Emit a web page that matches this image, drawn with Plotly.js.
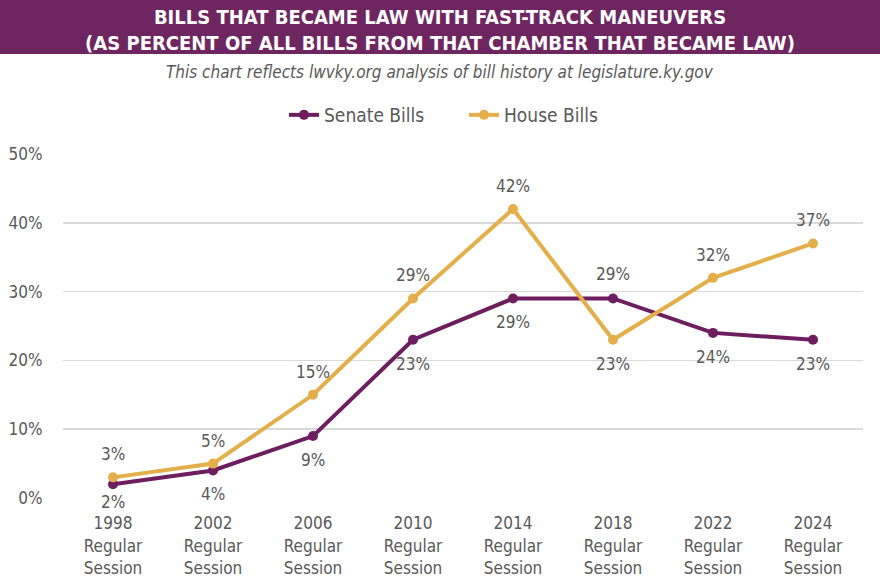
<!DOCTYPE html>
<html>
<head>
<meta charset="utf-8">
<script src="https://cdn.plot.ly/plotly-3.0.1.min.js"></script>
<style>
html,body{margin:0;padding:0;background:#fff;}
#chart{width:880px;height:587px;}
</style>
</head>
<body>
<div id="chart"></div>
<script>
const years = ["1998", "2002", "2006", "2010", "2014", "2018", "2022", "2024"];
const tickLabels = ["1998<br>Regular<br>Session", "2002<br>Regular<br>Session", "2006<br>Regular<br>Session", "2010<br>Regular<br>Session", "2014<br>Regular<br>Session", "2018<br>Regular<br>Session", "2022<br>Regular<br>Session", "2024<br>Regular<br>Session"];
const senateBills = [0.02, 0.04, 0.09, 0.23, 0.29, 0.29, 0.24, 0.23];
const houseBills = [0.03, 0.05, 0.15, 0.29, 0.42, 0.23, 0.32, 0.37];

const FONT = "'Liberation Sans Narrow', 'DejaVu Sans Condensed', 'Arial Narrow', sans-serif";
const GRAY = "#595959";
const PURPLE = "#6D1E5E";
const GOLD = "#E4AF4A";

const W = 880, H = 587;
const mT = 154, mB = 89, mL = 63, mR = 17;
const plotH = H - mT - mB;
const plotW = W - mL - mR;
const yMax = 0.5;
function pyToPaper(py) { return (H - mB - py) / plotH; }
function pxToPaper(px) { return (px - mL) / plotW; }
// shift for a label placed below a point, kept clear of the axis tick labels
function belowShift(v) {
  const py = (H - mB) - v / yMax * plotH;
  return -Math.min(24, 502 - py);
}

const traces = [
  {
    x: years, y: senateBills, name: "Senate Bills", type: "scatter", mode: "lines+markers",
    line: {color: PURPLE, width: 4}, marker: {color: PURPLE, size: 10},
    cliponaxis: false
  },
  {
    x: years, y: houseBills, name: "House Bills", type: "scatter", mode: "lines+markers",
    line: {color: GOLD, width: 4}, marker: {color: GOLD, size: 10},
    cliponaxis: false
  }
];

const annotations = [];
years.forEach((yr, i) => {
  const s = senateBills[i], h = houseBills[i];
  annotations.push({
    x: i, y: s, xref: "x", yref: "y", text: Math.round(s * 100) + "%",
    showarrow: false, yshift: s >= h ? 24 : belowShift(s),
    font: {family: FONT, size: 17, color: GRAY}
  });
  annotations.push({
    x: i, y: h, xref: "x", yref: "y", text: Math.round(h * 100) + "%",
    showarrow: false, yshift: h > s ? 23 : belowShift(h),
    font: {family: FONT, size: 17, color: GRAY}
  });
});
annotations.push({
  xref: "paper", yref: "paper", x: pxToPaper(440), y: pyToPaper(72),
  text: "<i>This chart reflects lwvky.org analysis of bill history at legislature.ky.gov</i>",
  showarrow: false, xanchor: "center", yanchor: "middle",
  font: {family: FONT, size: 17, color: GRAY}
});

const layout = {
  width: W, height: H,
  margin: {t: mT, b: mB, l: mL, r: mR},
  paper_bgcolor: "#fff", plot_bgcolor: "#fff",
  font: {family: FONT, color: GRAY, size: 17},
  title: {
    text: "<b>BILLS THAT BECAME LAW WITH FAST-TRACK MANEUVERS<br>(AS PERCENT OF ALL BILLS FROM THAT CHAMBER THAT BECAME LAW)</b>",
    font: {family: FONT, size: 20, color: "#fff"},
    x: 0.5, xref: "container", y: 1 - 24 / H, yref: "container", yanchor: "middle"
  },
  shapes: [{
    type: "rect", xref: "paper", yref: "paper",
    x0: pxToPaper(0), x1: pxToPaper(W),
    y0: pyToPaper(54), y1: pyToPaper(0),
    fillcolor: "#6E2660", line: {width: 0}, layer: "below"
  }],
  showlegend: true,
  legend: {
    orientation: "h", x: pxToPaper(284), xanchor: "left",
    y: pyToPaper(115), yanchor: "middle",
    font: {family: FONT, size: 19, color: GRAY},
    entrywidth: 135, entrywidthmode: "pixels", tracegroupgap: 0
  },
  xaxis: {
    type: "category", range: [-0.5, 7.5],
    tickvals: years, ticktext: tickLabels,
    showgrid: false, zeroline: false, showline: false,
    ticks: "outside", ticklen: 10, tickcolor: "rgba(0,0,0,0)",
    tickfont: {family: FONT, size: 17, color: GRAY},
    fixedrange: true
  },
  yaxis: {
    range: [0, yMax], dtick: 0.1, tickformat: ".0%",
    showgrid: true, gridcolor: "#D9D9D9", gridwidth: 1.5,
    zeroline: false, showline: false,
    ticks: "outside", ticklen: 16, tickcolor: "rgba(0,0,0,0)",
    tickfont: {family: FONT, size: 17, color: GRAY},
    fixedrange: true
  },
  annotations: annotations
};

Plotly.newPlot("chart", traces, layout, {displayModeBar: false, staticPlot: true});
</script>
</body>
</html>
